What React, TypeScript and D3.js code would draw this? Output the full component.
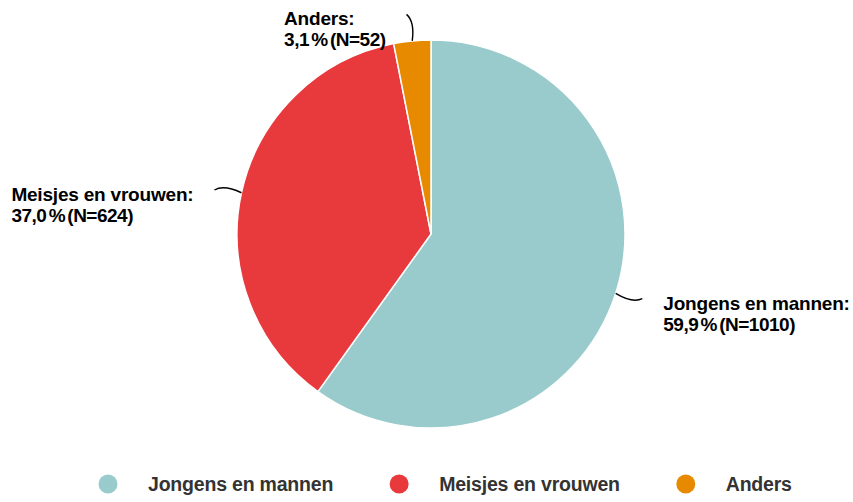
import React, { useEffect, useRef } from 'react'
import * as d3 from 'd3'

const categories = ['Jongens en mannen', 'Meisjes en vrouwen', 'Anders']
const counts = [1010, 624, 52]
const colors = ['#99cbcc', '#e83a3d', '#e78a00']

export default function App() {
  const svgRef = useRef<SVGSVGElement>(null)

  useEffect(() => {
    if (!svgRef.current) return
    const svg = d3.select(svgRef.current)
    svg.selectAll('*').remove()

    const cx = 431
    const cy = 234
    const radius = 194
    const total = d3.sum(counts)
    const fmt = (v: number) => d3.format('.1f')(v).replace('.', ',')

    const data = categories.map((c, i) => ({ name: c, count: counts[i], color: colors[i] }))

    const pie = d3
      .pie<{ name: string; count: number; color: string }>()
      .value((d) => d.count)
      .sort(null)

    const arc = d3
      .arc<d3.PieArcDatum<{ name: string; count: number; color: string }>>()
      .innerRadius(0)
      .outerRadius(radius)

    const g = svg.append('g').attr('transform', `translate(${cx},${cy})`)
    const arcs = pie(data)

    g.selectAll('path.slice')
      .data(arcs)
      .join('path')
      .attr('class', 'slice')
      .attr('d', arc)
      .attr('fill', (d) => d.data.color)
      .attr('stroke', '#fff')
      .attr('stroke-width', 1.5)
      .attr('stroke-linejoin', 'round')

    const polar = (a: number, r: number): [number, number] => [r * Math.sin(a), -r * Math.cos(a)]
    const deg = Math.PI / 180

    arcs.forEach((d) => {
      const mid = (d.startAngle + d.endAngle) / 2
      const start = polar(mid, radius)
      const ctrl = polar(mid + 1.2 * deg, 213)
      const end = polar(mid - 0.8 * deg, 221)
      const path = d3.path()
      path.moveTo(start[0], start[1])
      path.quadraticCurveTo(ctrl[0], ctrl[1], end[0], end[1])
      g.append('path')
        .attr('d', path.toString())
        .attr('fill', 'none')
        .attr('stroke', '#000')
        .attr('stroke-width', 1.4)

      const right = end[0] > 0
      const t = g
        .append('text')
        .style('font-family', '"Liberation Sans", Arial, sans-serif')
        .style('font-size', '19px')
        .style('font-weight', '700')
        .style('letter-spacing', '-0.2px')
        .attr('fill', '#000')
      const s1 = t.append('tspan').attr('y', end[1] + 11).text(`${d.data.name}:`)
      const s2 = t
        .append('tspan')
        .attr('y', end[1] + 32)
        .style('word-spacing', '-2.5px')
        .style('letter-spacing', '-0.5px')
        .text(`${fmt((d.data.count / total) * 100)} % (N=${d.data.count})`)
      const spans = [s1, s2]
      const maxW = d3.max(spans, (s) => (s.node() as SVGTSpanElement).getComputedTextLength()) || 0
      const x = right ? end[0] + 21 : end[0] - 21 - maxW
      spans.forEach((s) => s.attr('x', x))
    })

    // legend
    const lg = svg.append('g').attr('transform', `translate(0,484)`)
    let x = 108
    data.forEach((d) => {
      lg.append('circle').attr('cx', x).attr('cy', 0).attr('r', 9.5).attr('fill', d.color)
      const txt = lg
        .append('text')
        .attr('x', x + 40)
        .attr('y', 7)
        .style('font-family', '"Liberation Sans", Arial, sans-serif')
        .style('font-size', '19.5px')
        .style('font-weight', '700')
        .style('letter-spacing', '-0.2px')
        .attr('fill', '#333')
        .text(d.name)
      const w = (txt.node() as SVGTextElement).getComputedTextLength()
      x += 40 + w + 66
    })
  }, [])

  return (
    <svg
      ref={svgRef}
      width={853}
      height={502}
      style={{ position: 'absolute', left: 0, top: 0, background: '#fff' }}
    />
  )
}
